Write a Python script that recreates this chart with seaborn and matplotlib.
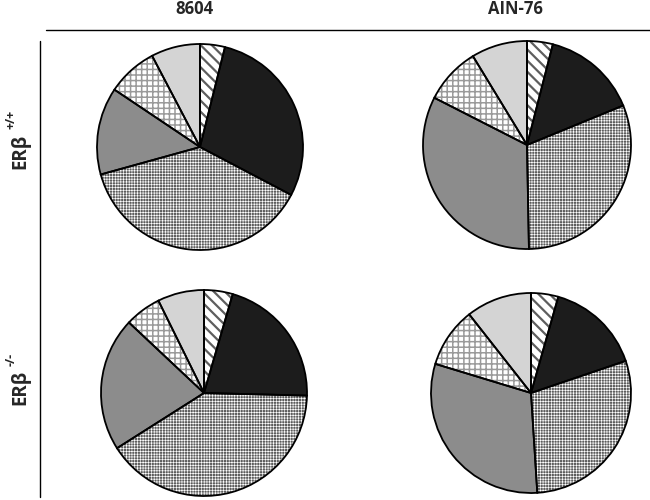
import numpy as np
import matplotlib
matplotlib.use('Agg')
import matplotlib.pyplot as plt
import seaborn as sns
from matplotlib.lines import Line2D

sns.set_style('white')
plt.rcParams['font.family'] = ['Open Sans', 'DejaVu Sans']

# diet columns and genotype rows
diets = ['8604', 'AIN-76']
genotypes = ['ERβ', 'ERβ']
genotype_sup = ['+/+', '-/-']

# slice shares (%), clockwise from 12 o'clock
# order: hatched, black, dotted, mid gray, checked, light gray
wt_8604 = [3.9, 28.8, 38.0, 13.7, 7.9, 7.7]
wt_ain76 = [4.0, 14.8, 30.9, 32.8, 8.8, 8.7]
ko_8604 = [4.5, 20.9, 40.6, 21.0, 5.7, 7.3]
ko_ain76 = [4.4, 15.4, 29.2, 30.7, 9.7, 10.6]

fills = ['white', '#1c1c1c', '#5c5c5c', '#8c8c8c', 'white', '#d4d4d4']
hatch_cols = ['#5e5e5e', '#1c1c1c', 'white', '#8c8c8c', '#9a9a9a', '#d4d4d4']
hatches = ['\\\\\\', '', '++++++', '', '+++', '']
hatch_lw = [1.6, 1.0, 0.45, 1.0, 1.1, 1.0]

# pie placement in pixels: (center x, center y, radius)
spots = [(200, 147, 103), (527, 145, 104), (204, 393, 103), (531, 393, 100)]
W, H = 650, 500

fig = plt.figure(figsize=(6.5, 5), dpi=100)

for vals, (cx, cy, r) in zip([wt_8604, wt_ain76, ko_8604, ko_ain76], spots):
    ax = fig.add_axes([(cx - r) / W, (H - cy - r) / H, 2 * r / W, 2 * r / H])
    wedges, _ = ax.pie(vals, colors=fills, startangle=90, counterclock=False,
                       wedgeprops=dict(linewidth=0))
    for w, hc, h, hl in zip(wedges, hatch_cols, hatches, hatch_lw):
        w.set_hatch(h)
        w.set_edgecolor(hc)
        w.set_linewidth(0)
        if hasattr(w, 'set_hatch_linewidth'):
            w.set_hatch_linewidth(hl)
    ax.pie(vals, colors=['none'] * len(vals), startangle=90, counterclock=False,
           wedgeprops=dict(edgecolor='black', linewidth=1.3, fill=False))
    ax.set_xlim(-1.0, 1.0)
    ax.set_ylim(-1.0, 1.0)
    ax.axis('off')
    for p in ax.patches:
        p.set_clip_on(False)

# headers
for d, x in zip(diets, [194, 515]):
    fig.text(x / W, 1 - 9 / H, d, ha='center', va='center', fontsize=12, fontweight='bold')

# row labels
for g, s, y, ys in zip(genotypes, genotype_sup, [151, 387], [119, 359]):
    fig.text(20 / W, 1 - y / H, g, rotation=90, ha='center', va='center',
             fontsize=13.5, fontweight='bold')
    fig.text(11 / W, 1 - ys / H, s, rotation=90, ha='center', va='center',
             fontsize=9, fontweight='bold')

fig.add_artist(Line2D([46 / W, 1.0], [1 - 30 / H, 1 - 30 / H], color='black', lw=1.0))
fig.add_artist(Line2D([40 / W, 40 / W], [1 - 41 / H, 1 - 497 / H], color='black', lw=1.0))

fig.savefig('out.png', dpi=100)
